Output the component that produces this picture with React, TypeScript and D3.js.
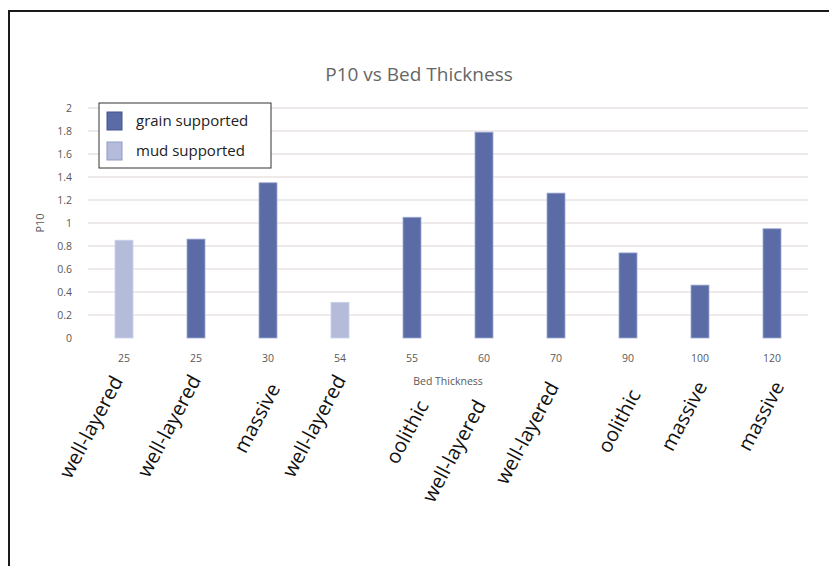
import React, { useEffect, useRef } from 'react';
import * as d3 from 'd3';

// Bed thickness (x ticks), lithology labels, P10 values and support type
const thickness = ['25', '25', '30', '54', '55', '60', '70', '90', '100', '120'];
const lithology = ['well-layered', 'well-layered', 'massive', 'well-layered', 'oolithic',
  'well-layered', 'well-layered', 'oolithic', 'massive', 'massive'];
const p10 = [0.85, 0.86, 1.35, 0.31, 1.05, 1.79, 1.26, 0.74, 0.46, 0.95];
const support = ['mud', 'grain', 'grain', 'mud', 'grain', 'grain', 'grain', 'grain', 'grain', 'grain'];
const yTicks = [0, 0.2, 0.4, 0.6, 0.8, 1, 1.2, 1.4, 1.6, 1.8, 2];
const legendItems = [
  { key: 'grain', label: 'grain supported' },
  { key: 'mud', label: 'mud supported' },
];

// hand-placed lithology labels in the original: centre offset from tick, centre y
const labelDx = [-33, -27, -11, -26, -5, -30, -29, -9, -16, -11];
const labelCy = [427, 426, 418, 426, 432, 451, 433, 421, 416, 416];

const colors: Record<string, string> = { grain: '#5b6ba5', mud: '#b4bcd9' };
const strokes: Record<string, string> = { grain: '#9fabd6', mud: '#c9d0e8' };

const App = () => {
  const ref = useRef<SVGSVGElement>(null);

  useEffect(() => {
    const svg = d3.select(ref.current);
    svg.selectAll('*').remove();

    const width = 829;
    const height = 566;
    const margin = { top: 108, right: 21, bottom: 228, left: 88 };
    const idx = thickness.map((_, i) => i);

    const x = d3.scaleBand<number>()
      .domain(idx)
      .range([margin.left, width - margin.right])
      .paddingInner(0.75)
      .paddingOuter(0.375);

    const y = d3.scaleLinear()
      .domain([0, 2])
      .range([height - margin.bottom, margin.top]);

    // white page + frame
    svg.append('rect').attr('width', width).attr('height', height).attr('fill', '#fff');
    svg.append('rect')
      .attr('x', 9).attr('y', 11)
      .attr('width', width + 20).attr('height', height + 20)
      .attr('fill', 'none').attr('stroke', '#1a1a1a').attr('stroke-width', 2);

    // title
    svg.append('text')
      .attr('x', 419).attr('y', 81)
      .attr('text-anchor', 'middle')
      .attr('font-family', 'Open Sans')
      .attr('font-size', 19)
      .attr('fill', '#666')
      .text('P10 vs Bed Thickness');

    // grid
    svg.append('g')
      .selectAll('line')
      .data(yTicks.filter(t => t > 0))
      .enter()
      .append('line')
      .attr('x1', margin.left).attr('x2', width - margin.right)
      .attr('y1', d => y(d)).attr('y2', d => y(d))
      .attr('stroke', '#dbd6d3').attr('stroke-width', 1.2);

    // y axis labels
    svg.append('g')
      .selectAll('text')
      .data(yTicks)
      .enter()
      .append('text')
      .attr('x', 72)
      .attr('y', d => y(d))
      .attr('dy', '0.35em')
      .attr('text-anchor', 'end')
      .attr('font-family', 'Open Sans')
      .attr('font-size', 10.5)
      .attr('fill', '#595959')
      .text(d => String(d));

    svg.append('text')
      .attr('transform', `translate(44,${y(1)}) rotate(-90)`)
      .attr('text-anchor', 'middle')
      .attr('font-family', 'Open Sans')
      .attr('font-size', 11)
      .attr('fill', '#595959')
      .text('P10');

    // bars
    svg.append('g')
      .selectAll('rect')
      .data(idx)
      .enter()
      .append('rect')
      .attr('x', i => x(i)!)
      .attr('width', x.bandwidth())
      .attr('y', i => y(p10[i]))
      .attr('height', i => y(0) - y(p10[i]))
      .attr('fill', i => colors[support[i]])
      .attr('stroke', i => strokes[support[i]])
      .attr('stroke-width', 0.8);

    // x tick labels
    svg.append('g')
      .selectAll('text')
      .data(idx)
      .enter()
      .append('text')
      .attr('x', i => x(i)! + x.bandwidth() / 2)
      .attr('y', 358)
      .attr('dy', '0.35em')
      .attr('text-anchor', 'middle')
      .attr('font-family', 'Open Sans')
      .attr('font-size', 10.5)
      .attr('fill', '#595959')
      .text(i => thickness[i]);

    svg.append('text')
      .attr('x', 448).attr('y', 381)
      .attr('dy', '0.35em')
      .attr('text-anchor', 'middle')
      .attr('font-family', 'Open Sans')
      .attr('font-size', 10.5)
      .attr('fill', '#595959')
      .text('Bed Thickness');

    // lithology labels
    svg.append('g')
      .selectAll('text')
      .data(idx)
      .enter()
      .append('text')
      .attr('transform', i => `translate(${x(i)! + x.bandwidth() / 2 + labelDx[i]},${labelCy[i]}) rotate(-62)`)
      .attr('dy', '0.35em')
      .attr('text-anchor', 'middle')
      .attr('font-family', 'Open Sans')
      .attr('font-size', 20)
      .attr('fill', '#111')
      .text(i => lithology[i]);

    // legend
    const lg = svg.append('g').attr('transform', 'translate(99,103)');
    lg.append('rect')
      .attr('width', 172).attr('height', 65)
      .attr('fill', '#fff').attr('stroke', '#333').attr('stroke-width', 1);
    legendItems.forEach((d, k) => {
      lg.append('rect')
        .attr('x', 8).attr('y', 9 + k * 30)
        .attr('width', 15).attr('height', 18)
        .attr('fill', colors[d.key])
        .attr('stroke', d.key === 'grain' ? '#44548c' : '#8f9bc6')
        .attr('stroke-width', 1);
      lg.append('text')
        .attr('x', 37).attr('y', 18 + k * 30)
        .attr('dy', '0.35em')
        .attr('font-family', 'Open Sans')
        .attr('font-size', 15)
        .attr('fill', '#222')
        .text(d.label);
    });
  }, []);

  return (
    <svg ref={ref} width={829} height={566}
      style={{ position: 'absolute', left: 0, top: 0, display: 'block' }} />
  );
};

export default App;
